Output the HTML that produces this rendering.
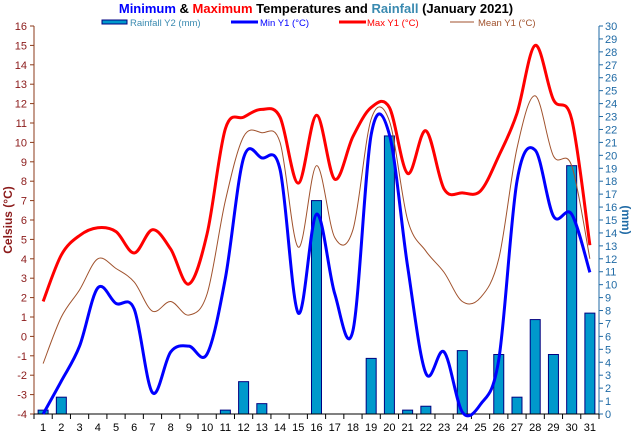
<!DOCTYPE html>
<html><head><meta charset="utf-8"><style>
body{margin:0;background:#fff;}
svg{font-family:"Liberation Sans",sans-serif;display:block}
</style></head><body>
<svg id="s" width="633" height="434" xmlns="http://www.w3.org/2000/svg">
<text x="316" y="13" text-anchor="middle" font-size="13" font-weight="bold"><tspan fill="#0000ff">Minimum</tspan><tspan fill="#000"> &amp; </tspan><tspan fill="#ff0000">Maximum</tspan><tspan fill="#000"> Temperatures and </tspan><tspan fill="#3a8ab0">Rainfall</tspan><tspan fill="#000"> (January 2021)</tspan></text>
<rect x="102" y="20" width="25" height="4" fill="#0099cc" stroke="#000080" stroke-width="1"/>
<text x="130" y="26" font-size="9.5" fill="#3a8ab0">Rainfall Y2 (mm)</text>
<line x1="231" y1="22" x2="258" y2="22" stroke="#0000ff" stroke-width="3"/>
<text x="260" y="26" font-size="9.5" fill="#0000ff">Min Y1 (°C)</text>
<line x1="339" y1="22" x2="366" y2="22" stroke="#ff0000" stroke-width="3"/>
<text x="367" y="26" font-size="9.5" fill="#ff0000">Max Y1 (°C)</text>
<line x1="450" y1="22" x2="474" y2="22" stroke="#a0522d" stroke-width="1"/>
<text x="478" y="26" font-size="9.5" fill="#a0522d">Mean Y1 (°C)</text>
<text transform="translate(12,220) rotate(-90)" text-anchor="middle" font-size="12" font-weight="bold" fill="#8b1a1a">Celsius (°C)</text>
<text transform="translate(622,220) rotate(90)" text-anchor="middle" font-size="12" font-weight="bold" fill="#1f6aa5">(mm)</text>
<g id="g"></g>
</svg>
<script>
var g=document.getElementById('g'),ns='http://www.w3.org/2000/svg';
function el(t,a,txt){var e=document.createElementNS(ns,t);for(var k in a)e.setAttribute(k,a[k]);if(txt!==undefined)e.textContent=txt;g.appendChild(e);return e;}
var X0=34,X1=599,Y0=414,Y1=26,st=(X1-X0)/31;
function yT(v){return Y0-(v+4)*(Y0-Y1)/20;}
function yR(v){return Y0-v*(Y0-Y1)/30;}
function cx(i){return X0+st*(i+0.5);}
var rain=[0.3,1.3,0,0,0,0,0,0,0,0,0.3,2.5,0.8,0,0,16.5,0,0,4.3,21.5,0.3,0.6,0,4.9,0,4.6,1.3,7.3,4.6,19.2,7.8];
var mx=[1.8,4.2,5.2,5.6,5.4,4.3,5.5,4.5,2.7,5.3,10.7,11.3,11.7,11.3,7.9,11.4,8.1,10.3,11.8,11.8,8.4,10.6,7.6,7.4,7.5,9.3,11.5,15,12.2,11.2,4.7];
var mn=[-4,-2.3,-0.5,2.5,1.7,1.4,-2.9,-0.8,-0.5,-0.9,3.0,9.2,9.2,8.6,1.2,6.3,2.2,0.3,10.4,10.4,3.6,-1.9,-0.8,-3.9,-3.5,-1.2,8.0,9.6,6.2,6.3,3.3];
var me=[-1.4,1.0,2.4,4.0,3.5,2.8,1.3,1.8,1.1,2.2,7.0,10.3,10.5,10.0,4.6,8.8,5.1,5.5,11.2,11.1,6.0,4.4,3.3,1.8,2.0,4.0,9.7,12.4,9.3,8.8,4.0];
// axes
el('line',{x1:X0,y1:Y1,x2:X0,y2:Y0,stroke:'#8b3a1a','stroke-width':1});
el('line',{x1:X1,y1:Y1,x2:X1,y2:Y0,stroke:'#1f6aa5','stroke-width':1});
for(var v=-4;v<=16;v++){var y=yT(v);el('line',{x1:X0-4,y1:y,x2:X0,y2:y,stroke:'#8b3a1a'});el('text',{x:X0-7,y:y+4,'text-anchor':'end','font-size':11,fill:'#8b1a1a'},v);}
for(var v=0;v<=30;v++){var y=yR(v);el('line',{x1:X1,y1:y,x2:X1+4,y2:y,stroke:'#1f6aa5'});el('text',{x:X1+6,y:y+4,'font-size':11,fill:'#1f6aa5'},v);}
// bars
rain.forEach(function(r,i){if(r>0){el('rect',{x:cx(i)-5,y:yR(r),width:10,height:Y0-yR(r),fill:'#0099cc',stroke:'#000080','stroke-width':1});}});
el('line',{x1:X0,y1:Y0,x2:X1,y2:Y0,stroke:'#000','stroke-width':1});
for(var i=0;i<=31;i++){var x=X0+st*i;el('line',{x1:x,y1:Y0,x2:x,y2:Y0+5,stroke:'#000'});}
for(var i=0;i<31;i++)el('text',{x:cx(i),y:Y0+17,'text-anchor':'middle','font-size':11,fill:'#000'},i+1);
function path(d){var p=d.map(function(v,i){return[cx(i),yT(v)]});var s='M'+p[0][0]+','+p[0][1];
for(var i=0;i<p.length-1;i++){var a=p[Math.max(0,i-1)],b=p[i],c=p[i+1],e=p[Math.min(p.length-1,i+2)];
s+=' C'+(b[0]+(c[0]-a[0])/6)+','+(b[1]+(c[1]-a[1])/6)+' '+(c[0]-(e[0]-b[0])/6)+','+(c[1]-(e[1]-b[1])/6)+' '+c[0]+','+c[1];}return s;}
el('path',{d:path(me),fill:'none',stroke:'#a0522d','stroke-width':1});
el('path',{d:path(mx),fill:'none',stroke:'#ff0000','stroke-width':3});
el('path',{d:path(mn),fill:'none',stroke:'#0000ff','stroke-width':3});
</script>
</body></html>
